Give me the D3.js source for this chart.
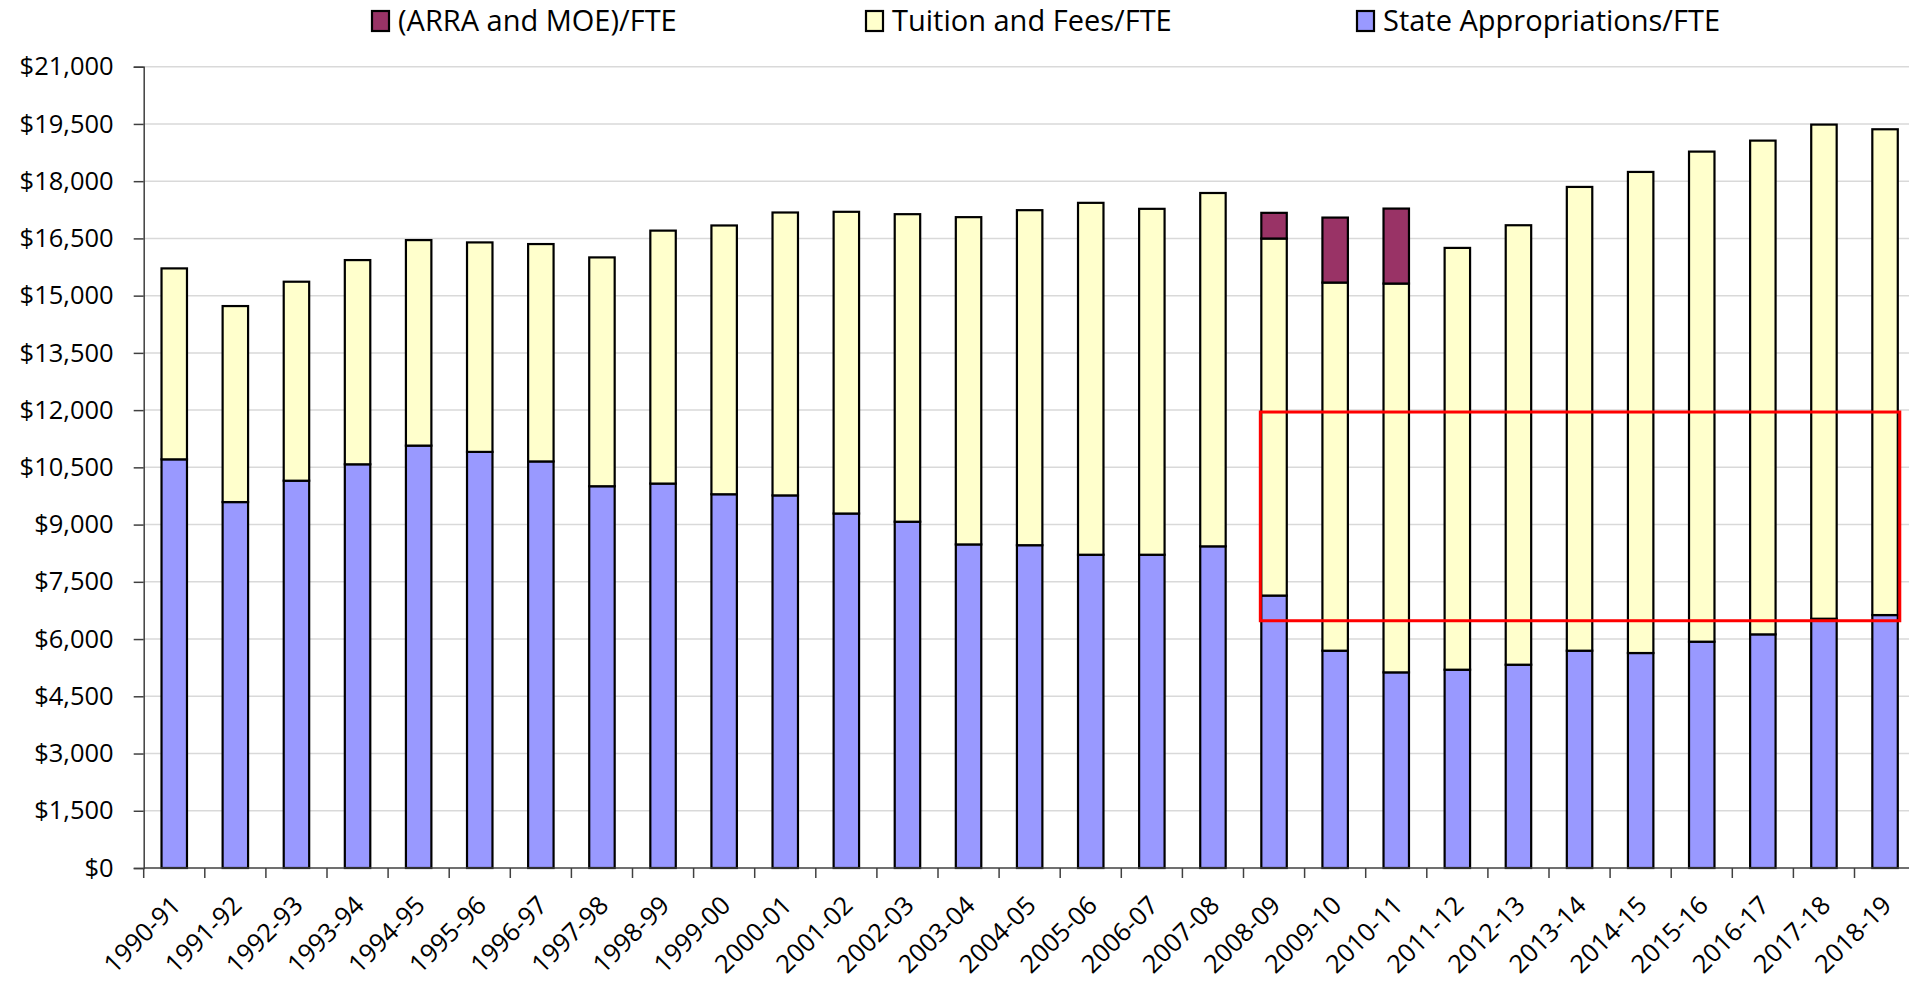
<!DOCTYPE html>
<html>
<head>
<meta charset="utf-8">
<script src="https://d3js.org/d3.v7.min.js"></script>
<style>
  body { margin: 0; background: #fff; }
  svg { display: block; font-family: "Open Sans", sans-serif; }
</style>
</head>
<body>
<script>
// chart data
var categories = ["1990-91", "1991-92", "1992-93", "1993-94", "1994-95", "1995-96", "1996-97",
  "1997-98", "1998-99", "1999-00", "2000-01", "2001-02", "2002-03", "2003-04", "2004-05",
  "2005-06", "2006-07", "2007-08", "2008-09", "2009-10", "2010-11", "2011-12", "2012-13",
  "2013-14", "2014-15", "2015-16", "2016-17", "2017-18", "2018-19"];

var stateApprop = [10710, 9590, 10150, 10580, 11070, 10905, 10655, 10005, 10075, 9795,
  9765, 9290, 9075, 8480, 8460, 8210, 8210, 8430, 7140, 5695, 5127, 5197, 5328,
  5695, 5634, 5931, 6123, 6533, 6629];

var tuitionFees = [5004, 5137, 5215, 5352, 5386, 5490, 5697, 5997, 6629, 7044,
  7414, 7907, 8060, 8577, 8780, 9222, 9065, 9260, 9357, 9648, 10190, 11054, 11517,
  12154, 12608, 12844, 12940, 12950, 12731];

var arraMoe = [0, 0, 0, 0, 0, 0, 0, 0, 0, 0, 0, 0, 0, 0, 0, 0, 0, 0,
  673, 1703, 1965, 0, 0, 0, 0, 0, 0, 0, 0];

var seriesNames = ["State Appropriations/FTE", "Tuition and Fees/FTE", "(ARRA and MOE)/FTE"];
var legendOrder = ["(ARRA and MOE)/FTE", "Tuition and Fees/FTE", "State Appropriations/FTE"];
var yTicks = [0, 1500, 3000, 4500, 6000, 7500, 9000, 10500, 12000, 13500, 15000, 16500, 18000, 19500, 21000];

// the red box drawn over the chart
var highlightCats = ["2008-09", "2018-19"];
var highlightValues = [6480, 11950];

var colors = {
  "State Appropriations/FTE": "#9999ff",
  "Tuition and Fees/FTE": "#ffffcc",
  "(ARRA and MOE)/FTE": "#993366"
};

var width = 1909, height = 984;
var plotLeft = 143.7, plotRight = 1915.6, plotTop = 66.7, plotBottom = 868;

var svg = d3.select("body").append("svg")
  .attr("width", width)
  .attr("height", height);

var x = d3.scaleBand()
  .domain(categories)
  .range([plotLeft, plotRight])
  .paddingInner(1 - 1 / 2.4)
  .paddingOuter((1 - 1 / 2.4) / 2);

var y = d3.scaleLinear()
  .domain([0, 21000])
  .range([plotBottom, plotTop]);

var rows = categories.map(function(c, i) {
  return {
    cat: c,
    "State Appropriations/FTE": stateApprop[i],
    "Tuition and Fees/FTE": tuitionFees[i],
    "(ARRA and MOE)/FTE": arraMoe[i]
  };
});

// gridlines
svg.append("g")
  .selectAll("line")
  .data(yTicks.slice(1))
  .enter()
  .append("line")
  .attr("x1", plotLeft)
  .attr("x2", width)
  .attr("y1", function(d) { return y(d); })
  .attr("y2", function(d) { return y(d); })
  .style("stroke", "#d9d9d9")
  .style("stroke-width", 1.5);

// y axis
var yAxis = d3.axisLeft(y)
  .tickValues(yTicks)
  .tickSize(10)
  .tickPadding(20)
  .tickFormat(function(d) { return "$" + d3.format(",")(d); });

var gy = svg.append("g")
  .attr("transform", "translate(" + plotLeft + ",0)")
  .call(yAxis);
gy.select(".domain").style("stroke", "#404040").style("stroke-width", 1.5);
gy.selectAll(".tick line").style("stroke", "#404040").style("stroke-width", 1.5);
gy.selectAll("text")
  .style("font-size", "25.5px")
  .style("font-family", "'Open Sans', sans-serif")
  .style("fill", "#000");

// stacked bars
var stack = d3.stack().keys(seriesNames);
var layers = stack(rows);

svg.append("g")
  .selectAll("g")
  .data(layers)
  .enter()
  .append("g")
  .style("fill", function(d) { return colors[d.key]; })
  .selectAll("rect")
  .data(function(d) { return d.filter(function(p) { return p[1] > p[0]; }); })
  .enter()
  .append("rect")
  .attr("x", function(d) { return x(d.data.cat); })
  .attr("width", x.bandwidth())
  .attr("y", function(d) { return y(d[1]); })
  .attr("height", function(d) { return y(d[0]) - y(d[1]); })
  .style("stroke", "#000")
  .style("stroke-width", 2.2);

// x axis with ticks between categories
var step = x.step();
svg.append("line")
  .attr("x1", plotLeft)
  .attr("x2", width)
  .attr("y1", plotBottom)
  .attr("y2", plotBottom)
  .style("stroke", "#404040")
  .style("stroke-width", 1.5);

svg.append("g")
  .selectAll("line")
  .data(d3.range(categories.length + 1))
  .enter()
  .append("line")
  .attr("x1", function(i) { return plotLeft + i * step; })
  .attr("x2", function(i) { return plotLeft + i * step; })
  .attr("y1", plotBottom)
  .attr("y2", plotBottom + 10)
  .style("stroke", "#404040")
  .style("stroke-width", 1.5);

svg.append("g")
  .selectAll("text")
  .data(categories)
  .enter()
  .append("text")
  .attr("transform", function(d) {
    var cx = x(d) + x.bandwidth() / 2 + 8;
    return "translate(" + cx + "," + (plotBottom + 39) + ") rotate(-45)";
  })
  .attr("text-anchor", "end")
  .style("font-size", "25.5px")
  .style("fill", "#000")
  .text(function(d) { return d; });

// highlight box
var hx0 = x(highlightCats[0]) - 1;
var hx1 = x(highlightCats[1]) + x.bandwidth() + 2;
svg.append("rect")
  .attr("x", hx0)
  .attr("y", y(highlightValues[1]))
  .attr("width", hx1 - hx0)
  .attr("height", y(highlightValues[0]) - y(highlightValues[1]))
  .style("fill", "none")
  .style("stroke", "#ff0000")
  .style("stroke-width", 3);

// legend
var legendX = [372, 866, 1357];
var legend = svg.append("g")
  .selectAll("g")
  .data(legendOrder)
  .enter()
  .append("g")
  .attr("transform", function(d, i) { return "translate(" + legendX[i] + ",11)"; });

legend.append("rect")
  .attr("width", 17)
  .attr("height", 20)
  .style("fill", function(d) { return colors[d]; })
  .style("stroke", "#000")
  .style("stroke-width", 2.2);

legend.append("text")
  .attr("x", 26)
  .attr("y", 10)
  .attr("dy", "0.35em")
  .style("font-size", "29px")
  .style("fill", "#000")
  .text(function(d) { return d; });
</script>
</body>
</html>
